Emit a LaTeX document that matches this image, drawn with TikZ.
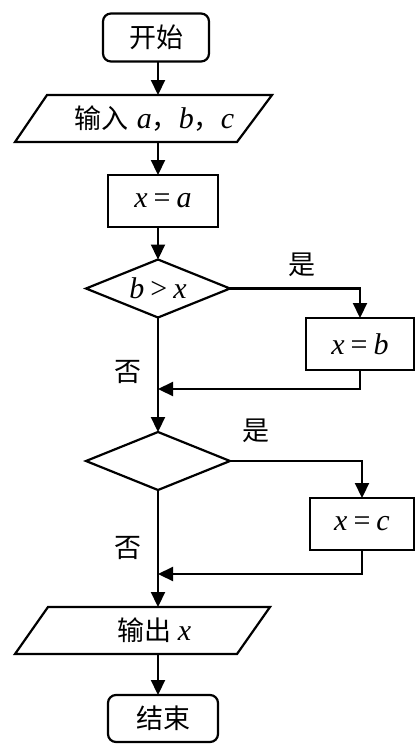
\documentclass[tikz,border=0pt]{standalone}
\usepackage{fontspec}
\newfontfamily\cjk{Noto Sans CJK SC}
\newfontfamily\tms{Liberation Serif}
\usetikzlibrary{arrows.meta,shapes.geometric}
% italic variable in the Times-like face
\newcommand\vv[1]{{\tms\itshape #1}}
\newcommand\op[1]{\hspace{6pt}{\tms #1}\hspace{6pt}}
\begin{document}
\begin{tikzpicture}[x=1pt,y=1pt,
  line width=2.2pt,
  every node/.style={inner sep=0pt, outer sep=0pt, font=\fontsize{27}{30}\selectfont\cjk},
  mth/.style={font=\fontsize{30}{34}\selectfont\tms},
  term/.style={draw, rectangle, rounded corners=8pt, minimum width=106, minimum height=48},
  proc/.style={draw, rectangle, minimum width=#1, minimum height=52, mth},
  io/.style={rectangle, minimum width=#1, minimum height=47},
  cond/.style={draw, diamond, aspect=2.5, minimum width=144, minimum height=58, mth},
  arr/.style={-{Triangle[width=14pt,length=15pt]}},
]
\useasboundingbox (0,0) rectangle (418,-744);
\fill[white] (0,0) rectangle (418,-744);

% main axis of the flow
\coordinate (ax) at (158,0);

% nodes
\node[term] (start) at (156,-37.5) {开始};
\node[io=257] (inp) at (143.5,-118.5)
  {\hspace*{22pt}输入\hspace{8pt}{\fontsize{30}{34}\selectfont\vv{a}}，{\fontsize{30}{34}\selectfont\vv{b}}，{\fontsize{30}{34}\selectfont\vv{c}}};
\draw (inp.south west) -- ([xshift=-35pt]inp.south east) -- (inp.north east)
      -- ([xshift=32pt]inp.north west) -- cycle;
\node[proc=110] (xa) at (163,-201) {\vv{x}\op{=}\vv{a}};
\node[cond] (d1) at (158,-288.5) {\vv{b}\op{>}\vv{x}};
\node[proc=108] (xb) at (360,-344) {\vv{x}\op{=}\vv{b}};
\node[cond] (d2) at (158,-461) {};
\node[proc=104] (xc) at (362,-524) {\vv{x}\op{=}\vv{c}};
\node[io=255] (out) at (142.5,-630.5)
  {\hspace*{24pt}输出\hspace{6pt}{\fontsize{30}{34}\selectfont\vv{x}}};
\draw (out.south west) -- ([xshift=-33pt]out.south east) -- (out.north east)
      -- ([xshift=33pt]out.north west) -- cycle;
\node[term, minimum width=110, minimum height=47] (stop) at (163,-718.5) {结束};

% merge points on the main axis
\coordinate (j1) at (158,-389);
\coordinate (j2) at (158,-574);

% connectors
\draw[arr] (start.south -| ax) -- (inp.north -| ax);
\draw[arr] (inp.south -| ax) -- (xa.north -| ax);
\draw[arr] (xa.south -| ax) -- (d1.north);
\draw[arr] (d1.south) -- (d2.north);
\draw[arr] (d1.east) -| (xb.north);
\draw[arr] (xb.south) |- (j1);
\draw[arr] (d2.east) -| (xc.north);
\draw[arr] (xc.south) |- (j2);
\draw[arr] (d2.south) -- (out.north -| ax);
\draw[arr] (out.south -| ax) -- (stop.north -| ax);

% branch labels
\node (y1) at (302,-265) {是};
\node (n1) at (128,-372) {否};
\node (y2) at (256,-431) {是};
\node (n2) at (128,-548) {否};
\end{tikzpicture}
\end{document}
